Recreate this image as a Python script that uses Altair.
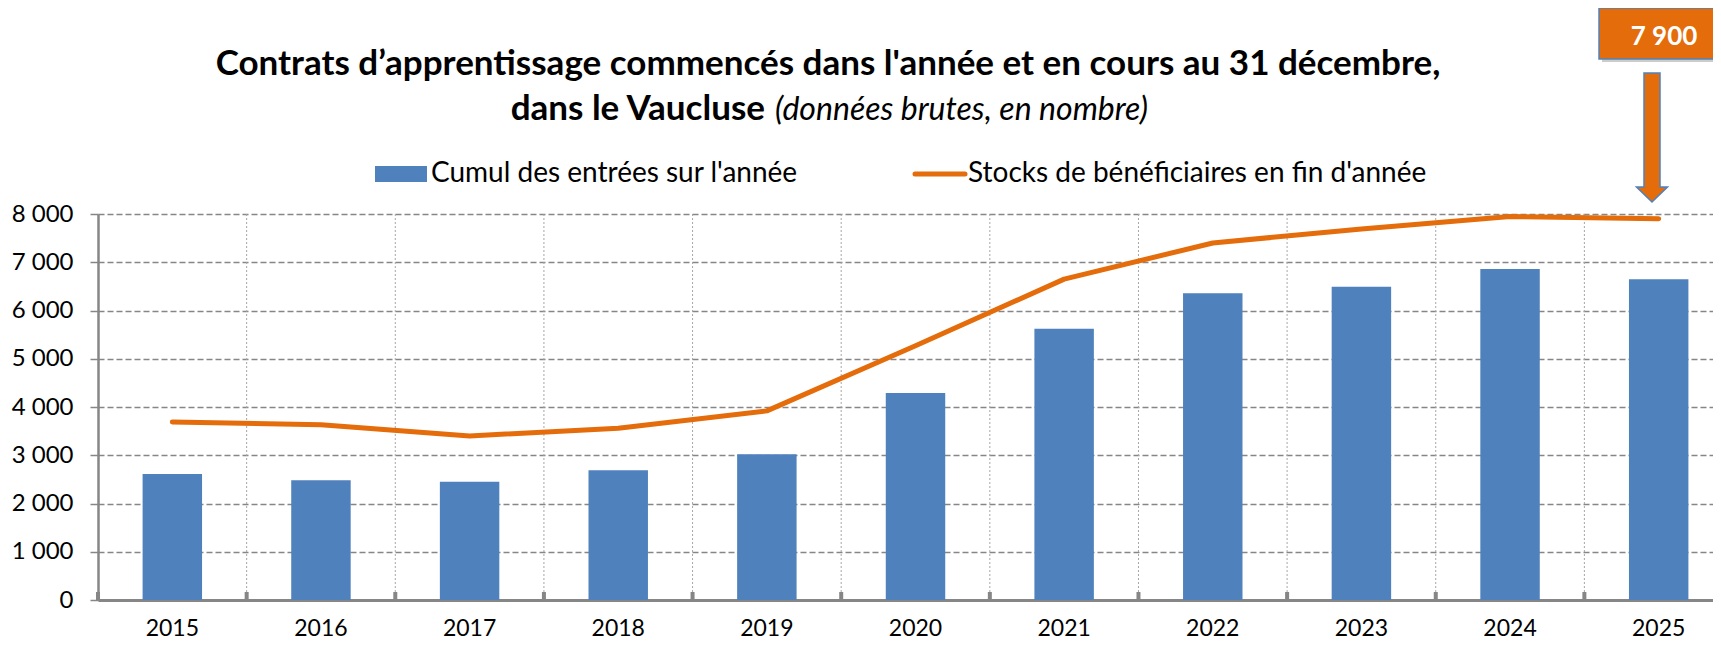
import altair as alt
import pandas as pd

# ---- data ----
years = ["2015", "2016", "2017", "2018", "2019", "2020", "2021", "2022", "2023", "2024", "2025"]
entrees = [2610, 2480, 2450, 2690, 3020, 4290, 5620, 6360, 6490, 6860, 6650]
stocks = [3690, 3630, 3400, 3560, 3920, 5270, 6650, 7400, 7690, 7950, 7900]

title_line1 = "Contrats d\u2019apprentissage commencés dans l'année et en cours au 31 décembre,"
title_line2_bold = "dans le Vaucluse"
title_line2_italic = "(données brutes, en nombre)"
legend_labels = ["Cumul des entrées sur l'année", "Stocks de bénéficiaires en fin d'année"]
callout_text = "7 900"
y_ticks = [0, 1000, 2000, 3000, 4000, 5000, 6000, 7000, 8000]

df = pd.DataFrame({"year": years, "entrees": entrees, "stocks": stocks})
one = pd.DataFrame({"a": [0]})

BLUE = "#4F81BD"
ORANGE = "#E46C0A"
GRID = "#868686"
FONT = "Lato"

x_scale = alt.Scale(range=[0, 1635], paddingInner=0.6, paddingOuter=0.3)
y_scale = alt.Scale(domain=[0, 8000], nice=False)

x_axis = alt.Axis(labelAngle=0, labelFont=FONT, labelFontSize=23, labelColor="black",
                  labelPadding=17, ticks=False, domainColor=GRID, domainWidth=3, grid=False,
                  bandPosition=0.5)

y_axis = alt.Axis(values=y_ticks,
                  labelExpr="replace(format(datum.value, ','), ',', ' ')",
                  labelFont=FONT, labelFontSize=24, labelColor="black", labelPadding=17,
                  tickSize=8, tickColor=GRID, tickWidth=1.5, domainColor=GRID, domainWidth=2.5,
                  gridColor=GRID, gridDash=[6, 3], gridWidth=1.5)

base = alt.Chart(df)

vgrid = base.transform_filter("datum.year != '2015'").mark_rule(
    color="#A6A6A6", strokeWidth=1, strokeDash=[2, 2], xOffset=-74.3
).encode(x=alt.X("year:N", title=None, scale=x_scale, axis=x_axis),
         y=alt.value(0), y2=alt.value(386))

bars = base.mark_bar(color=BLUE).encode(
    x=alt.X("year:N", title=None, scale=x_scale, axis=x_axis),
    y=alt.Y("entrees:Q", title=None, scale=y_scale, axis=y_axis),
)

line = base.mark_line(color=ORANGE, strokeWidth=5, strokeCap="round", strokeJoin="round").encode(
    x=alt.X("year:N", title=None, scale=x_scale, axis=x_axis),
    y=alt.Y("stocks:Q", title=None, scale=y_scale, axis=y_axis),
)

xticks = base.mark_rule(color=GRID, strokeWidth=4, xOffset=-74.3).encode(
    x=alt.X("year:N", title=None, scale=x_scale, axis=x_axis),
    y=alt.value(378),
    y2=alt.value(386),
)

def txt(text, x, y, size, weight="normal", style="normal", align="left", color="black"):
    return alt.Chart(one).mark_text(
        text=text, font=FONT, fontSize=size, fontWeight=weight, fontStyle=style,
        align=align, baseline="alphabetic", color=color,
    ).encode(x=alt.value(x), y=alt.value(y))

title1 = txt(title_line1, 730, -139, 35, weight="bold", align="center")
title2a = txt(title_line2_bold, 667, -94, 35, weight="bold", align="right")
title2b = txt(title_line2_italic, 677, -94, 32, style="italic", align="left")

leg_rect = alt.Chart(one).mark_rect(color=BLUE).encode(
    x=alt.value(277), x2=alt.value(329), y=alt.value(-48), y2=alt.value(-32))
leg_text1 = txt(legend_labels[0], 333, -32, 28)
leg_line = alt.Chart(one).mark_rule(color=ORANGE, strokeWidth=5, strokeCap="round").encode(
    x=alt.value(817), x2=alt.value(867), y=alt.value(-40))
leg_text2 = txt(legend_labels[1], 870, -32, 28)

shadow = alt.Chart(one).mark_rect(color="#9a9a9a", opacity=0.5).encode(
    x=alt.value(1504), x2=alt.value(1621), y=alt.value(-203), y2=alt.value(-152))
box = alt.Chart(one).mark_rect(color=ORANGE, stroke=BLUE, strokeWidth=1.5).encode(
    x=alt.value(1501), x2=alt.value(1618), y=alt.value(-206), y2=alt.value(-155))
box_text = txt(callout_text, 1566, -169, 26, weight="bold", align="center", color="white")

arrow_path = ("M-0.516,-4.161 L0.516,-4.161 L0.516,3.194 L1,3.194 L0,4.161 "
              "L-1,3.194 L-0.516,3.194 Z")
arrow = alt.Chart(one).mark_point(
    shape=arrow_path, size=961, filled=True, fill=ORANGE, stroke=BLUE, strokeWidth=1.5, opacity=1
).encode(x=alt.value(1554), y=alt.value(-76.5))

chart = alt.layer(
    vgrid, bars, line, xticks,
    title1, title2a, title2b,
    leg_rect, leg_text1, leg_line, leg_text2,
    shadow, box, box_text, arrow,
).properties(
    width=1615, height=386,
    padding={"left": 90, "top": 206, "right": 0, "bottom": 39},
    autosize=alt.AutoSizeParams(type="none"),
    background="white",
).configure_view(stroke=None)

chart.save("out.html", embed_options={"renderer": "svg", "actions": False})
